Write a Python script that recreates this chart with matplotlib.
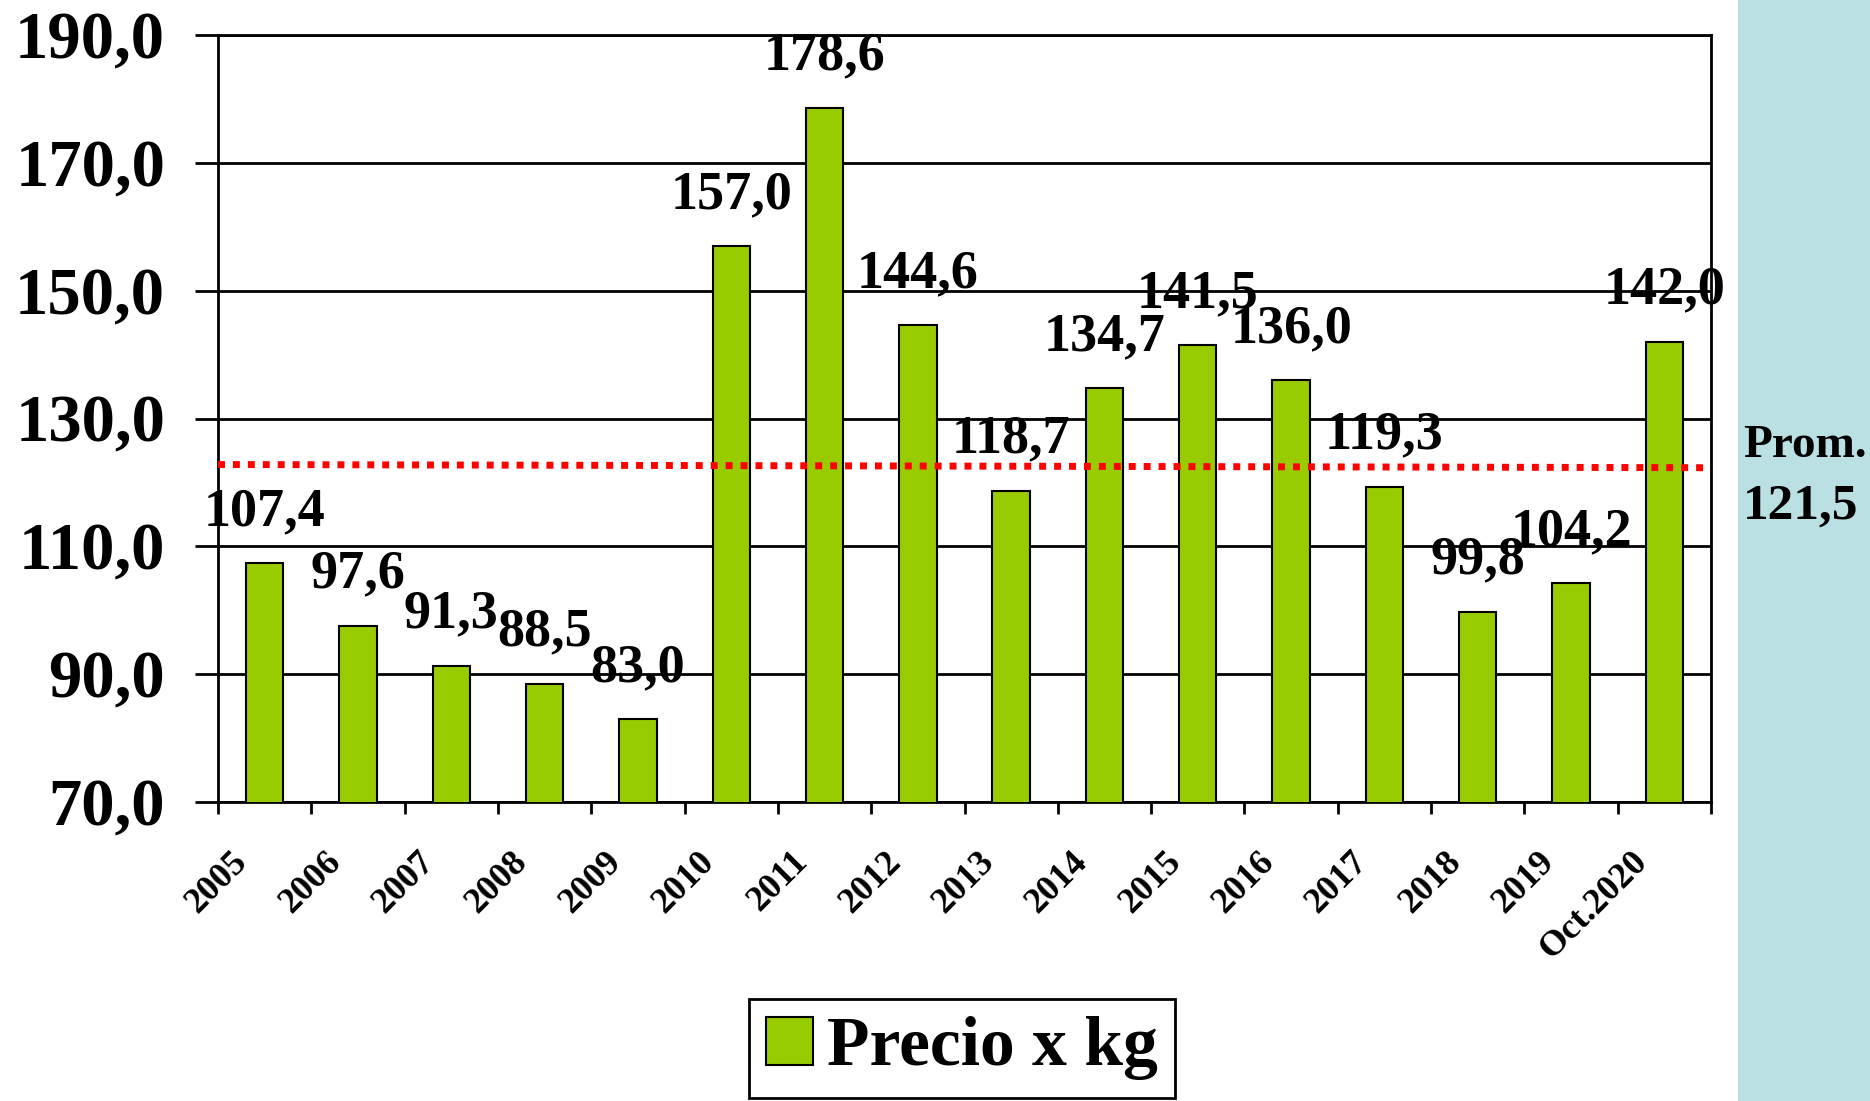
import numpy as np
import matplotlib
matplotlib.use("Agg")
import matplotlib.pyplot as plt
import matplotlib.transforms as mtransforms
from matplotlib.patches import Rectangle

# ---- data ----
categories = ["2005", "2006", "2007", "2008", "2009", "2010", "2011", "2012",
              "2013", "2014", "2015", "2016", "2017", "2018", "2019", "Oct.2020"]
precio = [107.4, 97.6, 91.3, 88.5, 83.0, 157.0, 178.6, 144.6,
          118.7, 134.7, 141.5, 136.0, 119.3, 99.8, 104.2, 142.0]
prom_value = 121.5
prom_line = [122.8, 122.3]   # drawn level of the average line (left end, right end)
y_ticks = [70, 90, 110, 130, 150, 170, 190]
series_name = "Precio x kg"

def fmt(v):
    return f"{v:.1f}".replace(".", ",")

plt.rcParams["font.family"] = ["Liberation Serif", "DejaVu Serif"]
plt.rcParams["font.weight"] = "bold"

W, H = 1870, 1101
fig = plt.figure(figsize=(W / 100, H / 100), dpi=100)
fig.patch.set_facecolor("white")

# light blue panel on the right
fig.patches.append(Rectangle((1738 / W, 0), 1 - 1738 / W, 1, transform=fig.transFigure,
                             facecolor="#BAE0E3", edgecolor="none", zorder=0))

ax = fig.add_axes([218 / W, 1 - 802 / H, (1711 - 218) / W, (802 - 35) / H])
x = np.arange(len(categories))

bars = ax.bar(x, precio, width=0.4, color="#99CC00", edgecolor="black",
              linewidth=1.5, zorder=3, label=series_name)

# average line
ax.plot([-0.5, len(categories) - 0.5], prom_line, color="#FF0000", lw=5,
        dashes=(1, 1.15), solid_capstyle="butt", dash_capstyle="butt", zorder=4)

# value labels
for xi, v in zip(x, precio):
    ax.annotate(fmt(v), (xi, v), xytext=(0, 27.4), textcoords="offset points",
                ha="center", va="baseline", fontsize=39, fontweight="bold",
                zorder=5, annotation_clip=False)

ax.set_xlim(-0.5, len(categories) - 0.5)
ax.set_ylim(y_ticks[0], y_ticks[-1])
ax.set_yticks(y_ticks)
ax.set_yticklabels([fmt(t) for t in y_ticks])
ax.tick_params(axis="y", direction="out", length=16.5, width=2, pad=21.6,
               labelsize=48, colors="black")
ax.yaxis.grid(True, color="black", linewidth=2)
ax.set_axisbelow(True)

# ticks on category boundaries, labels at category centres
ax.set_xticks(np.arange(-0.5, len(categories), 1))
ax.set_xticklabels([])
ax.tick_params(axis="x", which="major", direction="out", length=8.6, width=2)
ax.set_xticks(x, minor=True)
ax.set_xticklabels(categories, minor=True, rotation=45, ha="right",
                   fontsize=26, fontweight="bold")
ax.tick_params(axis="x", which="minor", length=0, pad=31)
offset = mtransforms.ScaledTranslation(-10 / 100, 0, fig.dpi_scale_trans)
for lab in ax.get_xticklabels(minor=True):
    lab.set_transform(lab.get_transform() + offset)

for s in ax.spines.values():
    s.set_linewidth(2)
    s.set_color("black")

# average annotation
fig.text(1743 / W, 1 - 457 / H, "Prom.", fontsize=34, fontweight="bold",
         ha="left", va="baseline")
fig.text(1743 / W, 1 - 519 / H, fmt(prom_value), fontsize=37, fontweight="bold",
         ha="left", va="baseline")

leg = fig.legend(handles=[bars], labels=[series_name], loc="lower center",
                 bbox_to_anchor=(962 / W, 0.0), prop={"size": 50, "weight": "bold"},
                 frameon=True, fancybox=False, framealpha=1, edgecolor="black",
                 handlelength=0.68, handleheight=0.68, handletextpad=0.2,
                 borderpad=0.25, borderaxespad=0.05)
leg.get_frame().set_linewidth(2)

fig.savefig("out.png", dpi=100)
